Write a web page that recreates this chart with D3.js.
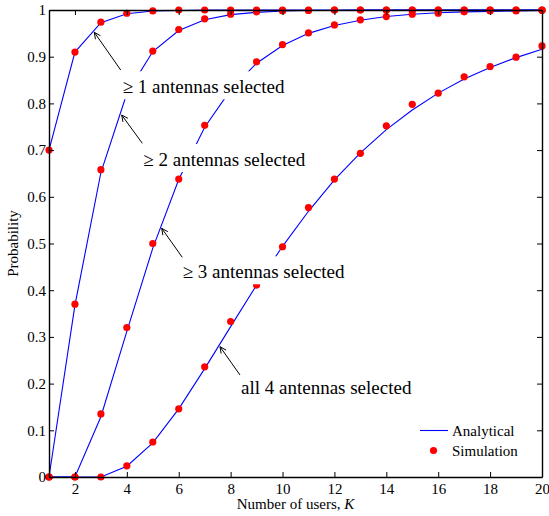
<!DOCTYPE html>
<html>
<head>
<style>
  body { margin: 0; background: #fff; }
  svg text { font-family: "Liberation Serif", "Times New Roman", serif; fill: #000; }
</style>
</head>
<body>
<svg width="549" height="516"></svg>
<script src="https://d3js.org/d3.v7.min.js"></script>
<script>

// number of users K
const users = d3.range(1, 21);

// analytical probabilities, one array per curve
const analytic1 = [0.7, 0.91, 0.973, 0.992, 0.998, 0.999, 1, 1, 1, 1, 1, 1, 1, 1, 1, 1, 1, 1, 1, 1];
const analytic2 = [0, 0.368, 0.652, 0.821, 0.911, 0.956, 0.979, 0.99, 0.995, 0.998, 0.999, 0.999, 1, 1, 1, 1, 1, 1, 1, 1];
const analytic3 = [0, 0, 0.129, 0.312, 0.49, 0.637, 0.749, 0.829, 0.886, 0.924, 0.95, 0.967, 0.978, 0.986, 0.991, 0.994, 0.996, 0.997, 0.998, 0.999];
const analytic4 = [0, 0, 0, 0.023, 0.073, 0.146, 0.232, 0.322, 0.411, 0.494, 0.569, 0.636, 0.694, 0.744, 0.786, 0.822, 0.852, 0.877, 0.898, 0.916];

// simulated probabilities
const sim1 = [0.7, 0.91, 0.974, 0.993, 0.998, 1, 1, 1, 1, 1, 1, 1, 1, 1, 1, 1, 1, 1, 1, 1];
const sim2 = [0, 0.37, 0.658, 0.82, 0.912, 0.958, 0.981, 0.991, 0.996, 0.998, 0.999, 1, 1, 1, 1, 1, 1, 1, 1, 1];
const sim3 = [0, 0, 0.135, 0.32, 0.5, 0.638, 0.753, 0.83, 0.889, 0.926, 0.951, 0.968, 0.979, 0.986, 0.991, 0.993, 0.996, 0.998, 0.998, 0.999];
const sim4 = [0, 0, 0, 0.024, 0.075, 0.146, 0.236, 0.333, 0.411, 0.493, 0.577, 0.638, 0.693, 0.752, 0.798, 0.822, 0.857, 0.879, 0.899, 0.923];

const xTicks = [2, 4, 6, 8, 10, 12, 14, 16, 18, 20];
const yTicks = [0, 0.1, 0.2, 0.3, 0.4, 0.5, 0.6, 0.7, 0.8, 0.9, 1];

const labels = ["\u2265 1 antennas selected", "\u2265 2 antennas selected", "\u2265 3 antennas selected", "all 4 antennas selected"];

const analytic = [analytic1, analytic2, analytic3, analytic4];
const simulated = [sim1, sim2, sim3, sim4];

const serif = "Liberation Serif, Times New Roman, serif";

const svg = d3.select("svg");
svg.append("rect").attr("width", 549).attr("height", 516).attr("fill", "#fff");

const plotL = 49, plotR = 542, plotT = 10, plotB = 477;

const x = d3.scaleLinear().domain([1, 20]).range([plotL, plotR]);
const y = d3.scaleLinear().domain([0, 1]).range([plotB, plotT]);

const line = d3.line()
  .x((d, i) => x(users[i]))
  .y(d => y(d));

// analytical curves
svg.append("g")
  .selectAll("path")
  .data(analytic)
  .enter()
  .append("path")
  .attr("d", line)
  .attr("fill", "none")
  .attr("stroke", "#0000ff")
  .attr("stroke-width", 1.1);

// simulation points
svg.append("g")
  .selectAll("g")
  .data(simulated)
  .enter()
  .append("g")
  .selectAll("circle")
  .data(d => d)
  .enter()
  .append("circle")
  .attr("cx", (d, i) => x(users[i]))
  .attr("cy", d => y(d))
  .attr("r", 3.6)
  .attr("fill", "#ff0000");

// axes, ticks pointing inward
function styleAxis(g) {
  g.attr("font-family", serif);
  g.selectAll("path.domain").attr("stroke", "#000").attr("stroke-width", 1.4);
  g.selectAll(".tick line").attr("stroke", "#000").attr("stroke-width", 1);
  g.selectAll("text")
    .attr("font-family", serif)
    .attr("font-size", 15)
    .attr("fill", "#000");
}

svg.append("g")
  .attr("transform", `translate(0,${plotB})`)
  .call(d3.axisBottom(x).tickValues(xTicks).tickSize(-5).tickSizeOuter(0).tickPadding(6))
  .call(styleAxis);

svg.append("g")
  .attr("transform", `translate(0,${plotT})`)
  .call(d3.axisTop(x).tickValues(xTicks).tickSize(-5).tickSizeOuter(0).tickFormat(""))
  .call(styleAxis);

svg.append("g")
  .attr("transform", `translate(${plotL},0)`)
  .call(d3.axisLeft(y).tickValues(yTicks).tickSize(-5).tickSizeOuter(0).tickPadding(3).tickFormat(d3.format("~g")))
  .call(styleAxis);

svg.append("g")
  .attr("transform", `translate(${plotR},0)`)
  .call(d3.axisRight(y).tickValues(yTicks).tickSize(-5).tickSizeOuter(0).tickFormat(""))
  .call(styleAxis);

// axis labels
const xl = svg.append("text")
  .attr("x", (plotL + plotR) / 2)
  .attr("y", 509)
  .attr("text-anchor", "middle")
  .attr("font-family", serif)
  .attr("font-size", 15)
  .text("Number of users, ");
xl.append("tspan").attr("font-style", "italic").text("K");

svg.append("text")
  .attr("transform", `translate(18,${(plotT + plotB) / 2}) rotate(-90)`)
  .attr("text-anchor", "middle")
  .attr("font-family", serif)
  .attr("font-size", 15)
  .text("Probability");

// annotations: text with white box, arrow pointing to curve
const notes = [
  { tx: 122.7, ty: 93.3, ax1: 120.7, ay1: 70, ax2: 94.3, ay2: 32.3 },
  { tx: 143.3, ty: 166, ax1: 142.3, ay1: 143.3, ax2: 121.7, ay2: 115 },
  { tx: 182.7, ty: 278.3, ax1: 182.3, ay1: 257.3, ax2: 161.7, ay2: 228.3 },
  { tx: 241, ty: 394, ax1: 240, ay1: 375, ax2: 220, ay2: 346.7 }
];

notes.forEach(function(n, i) {
  const g = svg.append("g");
  const box = g.append("rect").attr("fill", "#fff");
  const t = g.append("text")
    .attr("x", n.tx)
    .attr("y", n.ty)
    .attr("font-family", serif)
    .attr("font-size", 19)
    .text(labels[i]);
  const w = t.node().getComputedTextLength();
  box.attr("x", n.tx - 2).attr("y", n.ty - 22).attr("width", w + 4).attr("height", 28);

  g.append("line")
    .attr("x1", n.ax1).attr("y1", n.ay1)
    .attr("x2", n.ax2).attr("y2", n.ay2)
    .attr("stroke", "#000").attr("stroke-width", 1);

  const ang = Math.atan2(n.ay1 - n.ay2, n.ax1 - n.ax2);
  const len = 7, spread = 0.45;
  const p1 = [n.ax2 + len * Math.cos(ang - spread), n.ay2 + len * Math.sin(ang - spread)];
  const p2 = [n.ax2 + len * Math.cos(ang + spread), n.ay2 + len * Math.sin(ang + spread)];
  g.append("path")
    .attr("d", `M${p1[0]},${p1[1]}L${n.ax2},${n.ay2}L${p2[0]},${p2[1]}`)
    .attr("fill", "none")
    .attr("stroke", "#000")
    .attr("stroke-width", 1);
});

// legend
const legend = svg.append("g").attr("font-family", serif).attr("font-size", 15);
legend.append("line")
  .attr("x1", 420).attr("x2", 448)
  .attr("y1", 430.5).attr("y2", 430.5)
  .attr("stroke", "#0000ff").attr("stroke-width", 1.1);
legend.append("text").attr("x", 452).attr("y", 435.5).text("Analytical");
legend.append("circle").attr("cx", 433.5).attr("cy", 450.5).attr("r", 3.6).attr("fill", "#ff0000");
legend.append("text").attr("x", 452).attr("y", 455.5).text("Simulation");

</script>
</body>
</html>
